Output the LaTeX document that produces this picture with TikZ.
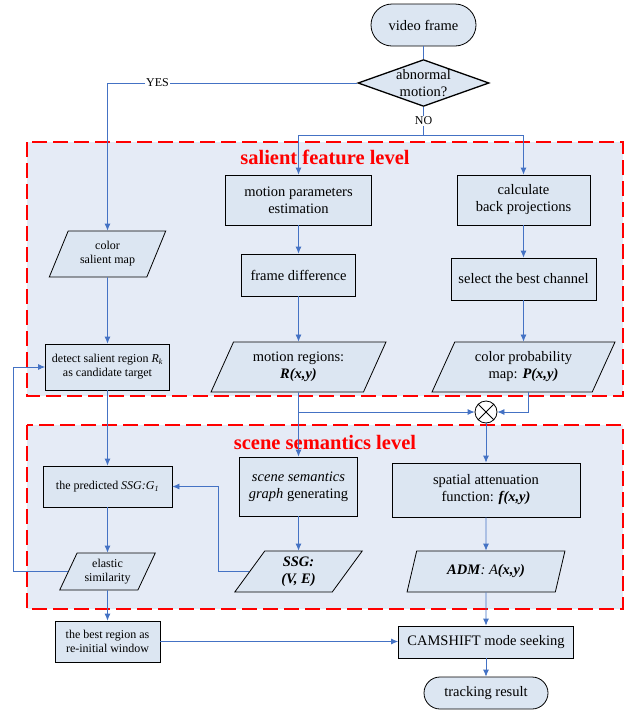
\documentclass[tikz,border=0pt]{standalone}
\usepackage{fontspec}
\setmainfont{Liberation Serif}
\usetikzlibrary{shapes.geometric,arrows.meta}
\definecolor{boxfill}{RGB}{220,230,242}
\definecolor{levelfill}{RGB}{229,235,246}
\definecolor{linkblue}{RGB}{68,114,196}
\tikzset{
  proc/.style={draw,line width=0.8pt,fill=boxfill,align=center,inner sep=1pt,
    font=\fontsize{14.5}{17}\selectfont},
  smallproc/.style={proc,font=\fontsize{12}{14}\selectfont},
  data/.style={proc,trapezium,trapezium left angle=63,trapezium right angle=117,
    trapezium stretches=true},
  smalldata/.style={data,font=\fontsize{12}{14}\selectfont},
  term/.style={proc,rounded corners=16pt},
  decision/.style={proc,diamond,aspect=2.8,inner sep=0pt,line width=1.3pt},
  mult/.style={draw,line width=0.8pt,circle,fill=white,minimum size=22pt,inner sep=0pt,
    path picture={\draw (path picture bounding box.north west)--(path picture bounding box.south east)
      (path picture bounding box.north east)--(path picture bounding box.south west);}},
  level/.style={draw=red,line width=2pt,dash pattern=on 15pt off 6pt,fill=levelfill},
  title/.style={text=red,font=\bfseries\fontsize{20.5}{24}\selectfont},
  link/.style={draw=linkblue,line width=0.8pt},
  tag/.style={fill=white,inner sep=1pt,font=\fontsize{12}{14}\selectfont}
}
\begin{document}
\begin{tikzpicture}[x=1pt,y=-1pt,>={Latex[length=7pt,width=6pt]}]
\useasboundingbox (0,0) rectangle (634,710);
% the two levels
\draw[level] (27,142) rectangle (623,396);
\draw[level] (27,425) rectangle (623,609);
\node[title] at (325,157) {salient feature level};
\node[title] at (325,442) {scene semantics level};
% steps
\node[term,minimum width=105pt,minimum height=42pt,rounded corners=21pt] (vf) at (423.5,25) {video frame};
\node[decision] (abn) at (423.5,83) {abnormal\\motion?};
\coordinate (nosplit) at (423.5,135);
\node[smalldata,minimum width=117pt,minimum height=46pt] (cmap) at (107.5,254) {color\\salient map};
\node[smallproc,minimum width=124pt,minimum height=46pt] (det) at (107.5,367)
  {detect salient region \textit{R}\textsubscript{\textit{k}}\\as candidate target};
\node[proc,minimum width=146pt,minimum height=50pt] (mpe) at (298.5,200) {motion parameters\\estimation};
\node[proc,minimum width=114pt,minimum height=42pt] (fd) at (298.5,275) {frame difference};
\node[data,minimum width=175pt,minimum height=50pt] (mreg) at (298.5,367)
  {motion regions:\\\textbf{\textit{R(x,y)}}};
\node[proc,minimum width=133pt,minimum height=50pt] (bp) at (523.5,200) {calculate\\back projections};
\node[proc,minimum width=145pt,minimum height=42pt] (best) at (523.5,279) {select the best channel};
\node[data,minimum width=183pt,minimum height=50pt] (cprob) at (523.5,367)
  {color probability\\map: \textbf{\textit{P(x,y)}}};
\node[mult] (mul) at (486,412) {};
\node[smallproc,minimum width=129pt,minimum height=41pt] (pred) at (107.5,486.5)
  {the predicted \textit{SSG:G}\textsubscript{\textit{1}}};
\node[smalldata,minimum width=96pt,minimum height=37pt] (elas) at (107.5,571.5) {elastic\\similarity};
\node[proc,minimum width=118pt,minimum height=59pt] (sgg) at (298.5,486.5)
  {\textit{scene semantics}\\\textit{graph} generating};
\node[data,minimum width=128pt,minimum height=41pt] (ssg) at (298.5,571.5)
  {\textbf{\textit{SSG:}}\\\textbf{\textit{(V, E)}}};
\node[proc,minimum width=188pt,minimum height=54pt] (saf) at (486,490)
  {spatial attenuation\\function: \textbf{\textit{f(x,y)}}};
\node[data,trapezium left angle=70,trapezium right angle=110,minimum width=158pt,minimum height=41pt] (adm) at (486,571.5)
  {\textbf{\textit{ADM}}\textit{: A}\textbf{\textit{(x,y)}}};
\node[smallproc,minimum width=105pt,minimum height=41pt] (bestreg) at (107.5,641.5)
  {the best region as\\re-initial window};
\node[proc,minimum width=175pt,minimum height=32pt] (cam) at (486,642) {CAMSHIFT mode seeking};
\node[term,minimum width=124pt,minimum height=32pt] (track) at (486,693) {tracking result};
% connectors
\draw[link] (vf) -- (abn);
\draw[link,->] (abn.west) -| node[tag,pos=0.4] {YES} (cmap.north);
\draw[link] (abn.south) -- node[tag] {NO} (nosplit);
\draw[link,->] (nosplit) -| (mpe.north);
\draw[link,->] (nosplit) -| (bp.north);
\draw[link,->] (cmap) -- (det);
\draw[link,->] (mpe) -- (fd);
\draw[link,->] (fd) -- (mreg);
\draw[link,->] (bp) -- (best);
\draw[link,->] (best) -- (cprob);
\draw[link,->] (mreg) -- (sgg);
\draw[link,->] (mreg.south |- mul) -- (mul.west);
\draw[link,->] ([xshift=4.5pt]cprob.south) |- (mul.east);
\draw[link,->] (mul) -- (saf);
\draw[link,->] (det) -- (pred);
\draw[link,->] (pred) -- (elas);
\draw[link,->] (elas.west) -- ++(-55,0) |- (det.west);
\draw[link,->] (sgg) -- (ssg);
\draw[link,->] (ssg.west) -- ++(-31,0) |- (pred.east);
\draw[link,->] (saf) -- (adm);
\draw[link,->] (elas) -- (bestreg);
\draw[link,->] (adm) -- (cam);
\draw[link,->] (bestreg.east) -- (bestreg.east -| cam.west);
\draw[link,->] (cam) -- (track);
\end{tikzpicture}
\end{document}
